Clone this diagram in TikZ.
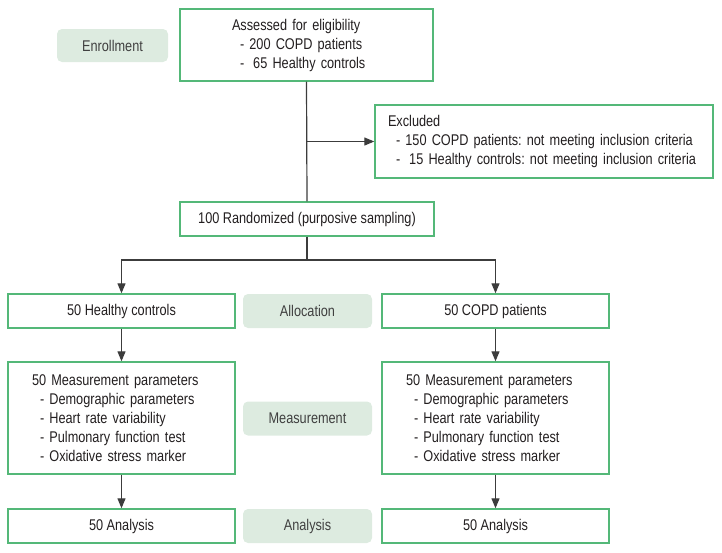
\documentclass[tikz,border=0pt]{standalone}
\usepackage{fontspec}
\setmainfont{Liberation Sans}[FakeStretch=0.82]
\usetikzlibrary{arrows.meta}
\frenchspacing
\definecolor{boxgreen}{RGB}{84,184,120}
\definecolor{pillfill}{RGB}{221,235,224}
\definecolor{txt}{RGB}{35,31,32}
\definecolor{pilltxt}{RGB}{64,64,64}
\definecolor{linecol}{RGB}{60,60,60}
\tikzset{
  box/.style={draw=boxgreen, line width=1.4pt, fill=white, text=txt, inner ysep=0pt,
    font=\fontsize{15.5}{19}\selectfont},
  pill/.style={fill=pillfill, rounded corners=5pt, text=pilltxt, inner sep=0pt,
    font=\fontsize{15.5}{19}\selectfont},
  conn/.style={draw=linecol, line width=1.2pt},
  arr/.style={conn, -{Triangle[length=10pt,width=8pt]}},
}
\begin{document}
\begin{tikzpicture}[x=1pt,y=-1pt]
\useasboundingbox (0,0) rectangle (722,552);
% phase labels
\node[pill, minimum width=111pt, minimum height=33pt] (enroll) at (112.5,45.5) {Enrollment};
\node[pill, minimum width=129pt, minimum height=34pt] (alloc) at (307.5,311) {Allocation};
\node[pill, minimum width=129pt, minimum height=34pt] (meas) at (307.5,418.5) {Measurement};
\node[pill, minimum width=129pt, minimum height=34pt] (anal) at (307.5,526) {Analysis};
% boxes
\node[box, inner xsep=52pt, text width=149pt, minimum height=72pt, align=left] (assess) at (306.5,45)
 {Assessed for eligibility\\
  \hspace*{8pt}- 200 COPD patients\\
  \hspace*{8pt}-\hspace{9pt}65 Healthy controls};
\node[box, inner xsep=13pt, text width=312pt, minimum height=73pt, align=left] (excl) at (544,141.5)
 {Excluded\\
  \hspace*{8pt}- 150 COPD patients: not meeting inclusion criteria\\
  \hspace*{8pt}-\hspace{9pt}15 Healthy controls: not meeting inclusion criteria};
\node[box, minimum width=254pt, minimum height=34pt] (rand) at (307,219) {100 Randomized (purposive sampling)};
\node[box, minimum width=227pt, minimum height=34pt] (hc) at (121.5,311) {50 Healthy controls};
\node[box, minimum width=227pt, minimum height=34pt] (copd) at (495.5,311) {50 COPD patients};
\node[box, inner xsep=24pt, text width=179pt, minimum height=112pt, align=left] (hcm) at (121.5,418)
 {50 Measurement parameters\\
  \hspace*{8pt}- Demographic parameters\\
  \hspace*{8pt}- Heart rate variability\\
  \hspace*{8pt}- Pulmonary function test\\
  \hspace*{8pt}- Oxidative stress marker};
\node[box, inner xsep=24pt, text width=179pt, minimum height=112pt, align=left] (copdm) at (495.5,418)
 {50 Measurement parameters\\
  \hspace*{8pt}- Demographic parameters\\
  \hspace*{8pt}- Heart rate variability\\
  \hspace*{8pt}- Pulmonary function test\\
  \hspace*{8pt}- Oxidative stress marker};
\node[box, minimum width=227pt, minimum height=34pt] (hca) at (121.5,526) {50 Analysis};
\node[box, minimum width=227pt, minimum height=34pt] (copda) at (495.5,526) {50 Analysis};
% connectors
\draw[conn] (assess.south) -- (rand.north);
\draw[arr] (assess.south |- excl.west) -- (excl.west);
\coordinate (split) at (307,260);
\draw[conn] (rand.south) -- (split);
\draw[arr] (split) -| (hc.north);
\draw[arr] (split) -| (copd.north);
\draw[arr] (hc.south) -- (hcm.north);
\draw[arr] (copd.south) -- (copdm.north);
\draw[arr] (hcm.south) -- (hca.north);
\draw[arr] (copdm.south) -- (copda.north);
\end{tikzpicture}
\end{document}
